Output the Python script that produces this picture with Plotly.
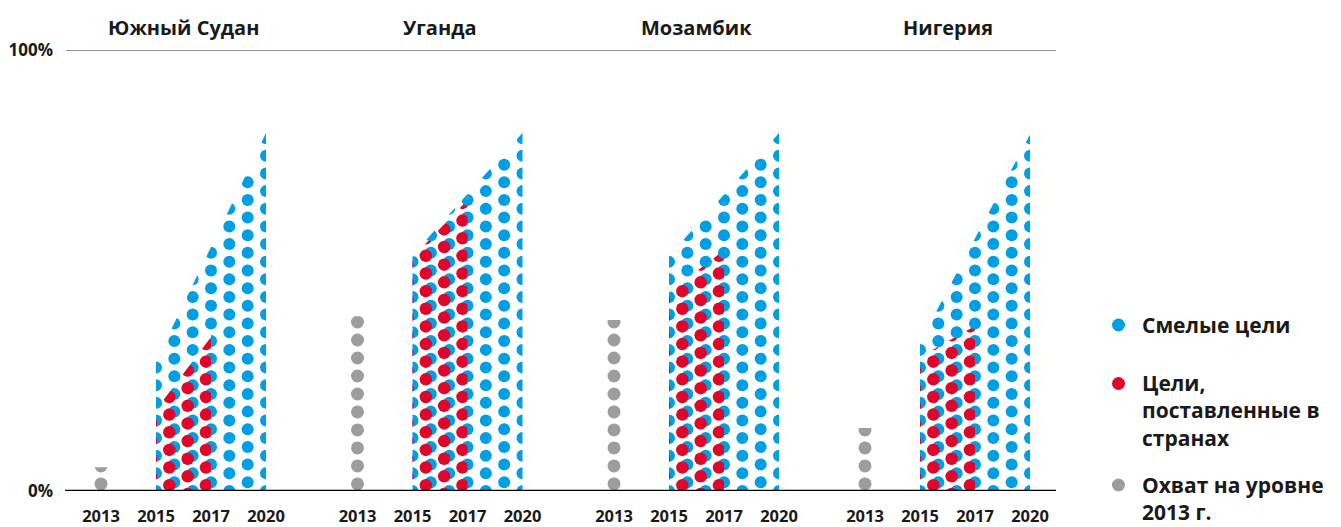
import plotly.graph_objects as go

# ---- data -------------------------------------------------------------
countries = ["Южный Судан", "Уганда", "Мозамбик", "Нигерия"]
years = ["2013", "2015", "2017", "2020"]
coverage_2013 = [5.4, 39.6, 38.8, 14.3]      # grey column, %
ambitious_2015 = [29.5, 53.5, 53.3, 33.8]    # blue area start, %
ambitious_2020 = [81.2, 81.2, 81.2, 80.8]    # blue area end, %
national_2015 = [18.4, 53.0, 45.0, 30.4]     # red area start, %
national_2017 = [34.9, 66.0, 54.6, 37.4]     # red area end, %
legend_labels = ["Смелые цели",
                 "Цели,<br>поставленные в<br>странах",
                 "Охват на уровне<br>2013 г."]
y_ticks = [0, 100]
y_ticktext = ["0%", "100%"]

# ---- style / layout constants ----------------------------------------
BLUE, RED, GRAY = "#009FE3", "#E0052B", "#9D9D9C"
FONT = "Open Sans"
W, H = 1341, 527
L, R, T, B = 65, 1056, 50, 491          # plot area in px
PW, PH = R - L, B - T
PX_PER_PCT = PH / 100.0
PANEL_X = [101, 357.5, 614, 865]        # px of first tick in each panel
STEP = 55                                # px between year ticks
PAD = 20                                 # px of frame beyond outer ticks
COL_PX = 2 * STEP / 6                    # dot column spacing (px)
ROW = 4.0                                # dot row spacing (%)
R_BLUE = 6 / PX_PER_PCT                  # dot radius in %
R_GRAY = 6.5 / PX_PER_PCT
RED_DX = -5 / COL_PX                     # red dot offset (columns)
RED_DY = -3 / PX_PER_PCT                 # red dot offset (%)
LEGEND_FONT = 21
LEGEND_LINE = 1.3 * LEGEND_FONT          # plotly's line spacing


def dom(x0, x1):
    return [max(0.0, (x0 - L) / PW), min(1.0, (x1 - L) / PW)]


def px_x(px):
    return (px - L) / PW


def px_y(py):
    return (B - py) / PH


def axname(n):
    return "x" if n == 1 else f"x{n}"


def axkey(n):
    return "xaxis" if n == 1 else f"xaxis{n}"


fig = go.Figure()
layout = {}
hidden = dict(visible=False, showgrid=False, zeroline=False, fixedrange=True,
              anchor="y", automargin=False)


def mask(xa, xs, ys):
    fig.add_trace(go.Scatter(x=xs, y=ys, xaxis=xa, yaxis="y", mode="lines",
                             fill="toself", fillcolor="white",
                             line=dict(width=0, color="white"),
                             hoverinfo="skip", showlegend=False))


def dots(xa, xs, ys, color, size):
    fig.add_trace(go.Scatter(x=xs, y=ys, xaxis=xa, yaxis="y", mode="markers",
                             marker=dict(color=color, size=size, line=dict(width=0)),
                             hoverinfo="skip", showlegend=False))


def blue_grid(ncols, top_fn, keep):
    xs, ys = [], []
    for k in range(ncols + 1):
        y = 0.0 if k % 2 == 0 else ROW / 2
        while y <= top_fn(k) + R_BLUE:
            if keep(k, y):
                xs.append(k)
                ys.append(y)
            y += ROW
    return xs, ys


for p, name in enumerate(countries):
    P = PANEL_X[p]
    base = 5 * p + 1
    cov = coverage_2013[p]
    b15, b20 = ambitious_2015[p], ambitious_2020[p]
    r15, r17 = national_2015[p], national_2017[p]

    def blue_line(x, b15=b15, b20=b20):
        return b15 + (b20 - b15) * x / 6

    def red_line(x, r15=r15, r17=r17):
        return r15 + (r17 - r15) * x / 3

    # frame axis with year labels
    layout[axkey(base)] = dict(
        domain=dom(P - PAD, P + 3 * STEP + PAD),
        range=[-PAD / STEP, 3 + PAD / STEP],
        anchor="y", tickvals=[0, 1, 2, 3], ticktext=years, ticks="",
        showgrid=False, zeroline=False, showline=False, fixedrange=True,
        ticklabelstandoff=13, automargin=False,
        tickfont=dict(family=FONT, size=16.5, color="#1a1a1a", weight="bold"))
    fig.add_trace(go.Scatter(x=[None], y=[None], xaxis=axname(base), yaxis="y",
                             showlegend=False, hoverinfo="skip"))

    # grey column: coverage in 2013
    n = base + 1
    layout[axkey(n)] = dict(domain=dom(P - 8, P + 8), range=[-1, 1], **hidden)
    gy, y = [], 1.6
    while y - R_GRAY <= cov:
        gy.append(y)
        y += 4.08
    dots(axname(n), [0] * len(gy), gy, GRAY, 13)
    mask(axname(n), [-1, 1, 1, -1], [cov, cov, 99, 99])

    # blue area: ambitious targets 2015-2020
    n = base + 2
    layout[axkey(n)] = dict(domain=dom(P + STEP, P + 3 * STEP), range=[0, 6], **hidden)
    bx, by = blue_grid(6, blue_line, lambda k, y: True)
    dots(axname(n), bx, by, BLUE, 12)
    mask(axname(n), [0, 6, 6, 0], [b15, b20, 99, 99])

    # red area: national targets 2015-2017
    n = base + 3
    layout[axkey(n)] = dict(domain=dom(P + STEP, P + 2 * STEP), range=[0, 3], **hidden)
    rx, ry = [], []
    for k in range(4):
        y = (0.0 if k % 2 == 0 else ROW / 2) + RED_DY
        x = k + RED_DX
        while y <= red_line(x) + R_BLUE:
            if y > -R_BLUE:
                rx.append(x)
                ry.append(y)
            y += ROW
    dots(axname(n), rx, ry, RED, 12.5)
    mask(axname(n), [0, 3, 3, 0], [r15, r17, 99, 99])

    # blue dots above the red area, drawn again after the red cut
    n = base + 4
    layout[axkey(n)] = dict(domain=dom(P + STEP, P + 2 * STEP), range=[0, 3], **hidden)
    cx, cy = blue_grid(3, blue_line,
                       lambda k, y, rl=red_line: y > rl(k) - 0.5 * R_BLUE)
    dots(axname(n), cx, cy, BLUE, 12)
    mask(axname(n), [0, 3, 3, 0], [b15, blue_line(3), 99, 99])

layout["yaxis"] = dict(
    domain=[0, 1], range=[0, 100], anchor="free", position=0,
    tickvals=y_ticks, ticktext=y_ticktext, ticks="", ticklabelstandoff=12,
    showgrid=False, zeroline=False, showline=False, fixedrange=True,
    automargin=False,
    tickfont=dict(family=FONT, size=17, color="#1a1a1a", weight="bold"))

shapes = [
    dict(type="line", xref="paper", yref="y", x0=px_x(66), x1=1, y0=100, y1=100,
         line=dict(color="#6F6F6E", width=1.5), layer="above"),
    dict(type="line", xref="paper", yref="y", x0=0, x1=1, y0=0, y1=0,
         line=dict(color="#000000", width=2.6), layer="above"),
]
annotations = []

# panel titles
for p, name in enumerate(countries):
    cx = PANEL_X[p] + 1.5 * STEP
    annotations.append(dict(
        text=name, xref="paper", yref="paper", x=px_x(cx), y=px_y(27),
        xanchor="center", yanchor="middle", showarrow=False,
        font=dict(family=FONT, size=20, color="#1a1a1a", weight="bold")))

# legend: coloured dot + label
legend_colors = [BLUE, RED, GRAY]
legend_dot_y = [325, 383.5, 485]
for lab, col, dy in zip(legend_labels, legend_colors, legend_dot_y):
    shapes.append(dict(type="circle", xref="paper", yref="paper",
                       x0=px_x(1112), x1=px_x(1125), y0=px_y(dy + 6.5), y1=px_y(dy - 6.5),
                       fillcolor=col, line=dict(width=0)))
    nlines = lab.count("<br>") + 1
    annotations.append(dict(
        text=lab, xref="paper", yref="paper", x=px_x(1140),
        y=px_y(dy + (nlines - 1) * LEGEND_LINE / 2),
        xanchor="left", yanchor="middle", align="left", showarrow=False,
        font=dict(family=FONT, size=LEGEND_FONT, color="#1a1a1a", weight="bold")))

fig.update_layout(
    width=W, height=H, autosize=False,
    margin=dict(l=L, r=W - R, t=T, b=H - B, pad=0, autoexpand=False),
    paper_bgcolor="white", plot_bgcolor="rgba(0,0,0,0)",
    showlegend=False, shapes=shapes, annotations=annotations,
    font=dict(family=FONT),
    **layout)

fig.write_html("out.html")
